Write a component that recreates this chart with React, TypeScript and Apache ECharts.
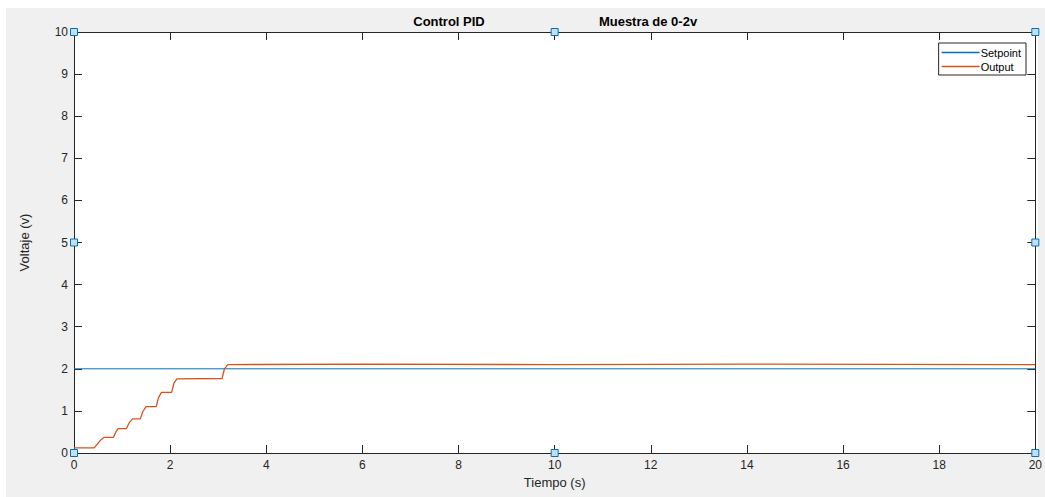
import React, { useEffect, useRef } from "react";
import * as echarts from "echarts";

const xTicks = [0, 2, 4, 6, 8, 10, 12, 14, 16, 18, 20];
const yTicks = [0, 1, 2, 3, 4, 5, 6, 7, 8, 9, 10];

const setpointTime = [0, 20];
const setpointValue = [2, 2];

const outputTime = [0, 0.42, 0.55, 0.62, 0.82, 0.87, 0.92, 1.09, 1.15, 1.22, 1.38, 1.43, 1.5, 1.71, 1.76, 1.82, 2.03, 2.08, 2.14, 3.08, 3.13, 3.2, 6, 10, 14, 20];
const outputValue = [0.12, 0.12, 0.3, 0.37, 0.37, 0.5, 0.58, 0.58, 0.72, 0.81, 0.81, 0.98, 1.1, 1.1, 1.32, 1.44, 1.44, 1.66, 1.76, 1.77, 2.0, 2.1, 2.11, 2.1, 2.11, 2.1];

const markerPoints = [[0, 0], [0, 5], [0, 10], [10, 0], [10, 10], [20, 0], [20, 5], [20, 10]];

const FONT = "'Liberation Sans', Arial, sans-serif";
const AX = "#262626";

export default function App() {
  const ref = useRef<HTMLDivElement>(null);
  useEffect(() => {
    document.body.style.margin = "0";
    const chart = echarts.init(ref.current!, null, { renderer: "svg" });
    const mkX = (pos: "bottom" | "top", labels: boolean) => ({
      type: "value",
      position: pos,
      min: 0,
      max: 20,
      interval: 2,
      axisLine: { show: true, onZero: false, lineStyle: { color: AX, width: 1 } },
      axisTick: { show: true, inside: true, length: 8, lineStyle: { color: AX } },
      axisLabel: { show: labels, color: AX, fontSize: 12, fontFamily: FONT, margin: 6 },
      splitLine: { show: false },
      name: labels ? "Tiempo (s)" : "",
      nameLocation: "middle",
      nameGap: 23,
      nameTextStyle: { color: AX, fontSize: 13, fontFamily: FONT },
    });
    const mkY = (pos: "left" | "right", labels: boolean) => ({
      type: "value",
      position: pos,
      min: 0,
      max: 10,
      interval: 1,
      axisLine: { show: true, onZero: false, lineStyle: { color: AX, width: 1 } },
      axisTick: { show: true, inside: true, length: 8, lineStyle: { color: AX } },
      axisLabel: { show: labels, color: AX, fontSize: 12, fontFamily: FONT, margin: 6 },
      splitLine: { show: false },
      name: labels ? "Voltaje (v)" : "",
      nameLocation: "middle",
      nameGap: 43,
      nameTextStyle: { color: AX, fontSize: 13, fontFamily: FONT },
    });
    chart.setOption({
      animation: false,
      backgroundColor: "#ffffff",
      textStyle: { fontFamily: FONT },
      graphic: [
        { type: "rect", z: -10, silent: true, shape: { x: 6, y: 8, width: 1045, height: 497 }, style: { fill: "#f0f0f0" } },
        { type: "rect", z: -9, silent: true, shape: { x: 74, y: 32, width: 964, height: 421 }, style: { fill: "#ffffff" } },
        { type: "text", x: 449, y: 21, style: { text: "Control PID", font: `bold 13px ${FONT}`, fill: "#000", align: "center", verticalAlign: "middle" } },
        { type: "text", x: 648, y: 21, style: { text: "Muestra de 0-2v", font: `bold 13px ${FONT}`, fill: "#000", align: "center", verticalAlign: "middle" } },
      ],
      grid: { left: 74, top: 32, width: 964, height: 421, containLabel: false },
      xAxis: [mkX("bottom", true), mkX("top", false)],
      yAxis: [mkY("left", true), mkY("right", false)],
      legend: {
        orient: "vertical",
        right: 19,
        top: 43,
        data: [
          { name: "Setpoint", icon: "rect", itemStyle: { color: "#0072BD", borderWidth: 0 } },
          { name: "Output", icon: "rect", itemStyle: { color: "#D95319", borderWidth: 0 } },
        ],
        backgroundColor: "#ffffff",
        borderColor: AX,
        borderWidth: 1,
        borderRadius: 0,
        padding: [3, 5, 2, 3],
        itemGap: 1,
        itemWidth: 38,
        itemHeight: 1.5,
        itemStyle: { borderWidth: 0 },
        textStyle: { color: "#000", fontSize: 11, fontFamily: FONT, lineHeight: 13, padding: [0, 0, 0, -4] },
      },
      series: [
        {
          name: "Setpoint",
          type: "line",
          symbol: "none",
          data: setpointTime.map((t, i) => [t, setpointValue[i]]),
          lineStyle: { color: "#0072BD", width: 1 },
          itemStyle: { color: "#0072BD" },
        },
        {
          name: "Output",
          type: "line",
          symbol: "none",
          data: outputTime.map((t, i) => [t, outputValue[i]]),
          lineStyle: { color: "#D95319", width: 1.3 },
          itemStyle: { color: "#D95319" },
        },
        {
          name: "markers",
          type: "scatter",
          symbol: "rect",
          symbolSize: 7,
          clip: false,
          z: 10,
          data: markerPoints,
          itemStyle: { color: "#c6def2", borderColor: "#0072BD", borderWidth: 1, opacity: 1 },
          emphasis: { disabled: true },
        },
      ],
    });
    return () => chart.dispose();
  }, []);
  return <div ref={ref} style={{ width: 1045, height: 497 }} />;
}
